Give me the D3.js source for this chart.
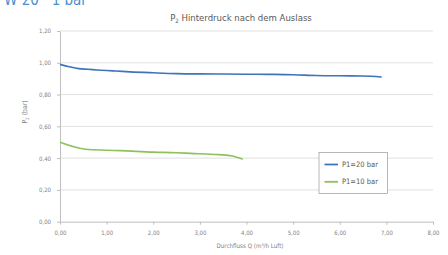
<!DOCTYPE html>
<html><head><meta charset="utf-8">
<script src="https://cdn.jsdelivr.net/npm/d3@7"></script>
<style>body{margin:0;background:#fff}svg{display:block}</style>
</head><body>
<script>
const xTicks = [0,1,2,3,4,5,6,7,8];
const yTicks = [0,0.2,0.4,0.6,0.8,1.0,1.2];
const seriesNames = ["P1=20 bar","P1=10 bar"];
const q20 = [0,0.2,0.4,0.6,0.8,1.0,1.2,1.5,2.0,2.5,3.0,3.5,4.0,4.5,5.0,5.5,6.0,6.5,6.9];
const p20 = [0.99,0.975,0.963,0.959,0.955,0.951,0.948,0.943,0.937,0.932,0.930,0.929,0.928,0.927,0.925,0.920,0.918,0.917,0.911];
const q10 = [0,0.55,1.0,1.3,2.0,2.5,2.8,3.4,3.7,3.92];
const p10 = [0.50,0.456,0.450,0.447,0.438,0.434,0.430,0.422,0.413,0.393];
const colors = ["#3d74ba","#8fc15b"];

const W=448,H=255;
const font = "'Liberation Sans Narrow','DejaVu Sans Condensed',sans-serif";
const svg = d3.select("body").append("svg").attr("width",W).attr("height",H).style("font-family",font);
const x = d3.scaleLinear().domain([0,8]).range([60,433]);
const y = d3.scaleLinear().domain([0,1.2]).range([221.7,31]);
const fmt = d => d.toFixed(2).replace(".",",");

// header
svg.append("text").attr("x",4).attr("y",4.5).attr("fill","#4a8fcf").attr("font-size",15).text("W 20 · 1 bar");
const t = svg.append("text").attr("x",241).attr("y",21).attr("text-anchor","middle").attr("fill","#595959").attr("font-size",9.5);
t.append("tspan").text("P");
t.append("tspan").attr("font-size",6).attr("dy",2).text("2");
t.append("tspan").attr("dy",-2).text(" Hinterdruck nach dem Auslass");

// grid
svg.append("g").selectAll("line").data(yTicks.filter(d=>d>0)).join("line")
  .attr("x1",x(0)).attr("x2",x(8)).attr("y1",d=>y(d)).attr("y2",d=>y(d))
  .attr("stroke","#d9d9d9").attr("stroke-width",0.8);

// axes
const ax = svg.append("g").attr("transform",`translate(0,${y(0)})`)
  .call(d3.axisBottom(x).tickValues(xTicks).tickFormat(fmt).tickSize(3).tickSizeOuter(0));
const ay = svg.append("g").attr("transform",`translate(${x(0)},0)`)
  .call(d3.axisLeft(y).tickValues(yTicks).tickFormat(fmt).tickSize(3).tickSizeOuter(0));
[ax,ay].forEach(g=>{
  g.select(".domain").attr("stroke","#bfbfbf");
  g.selectAll(".tick line").attr("stroke","#bfbfbf");
  g.selectAll("text").attr("fill","#7f7f7f").attr("font-size",6).attr("font-family",font);
});
ax.selectAll("text").attr("dy","1.2em");
ay.selectAll("text").attr("x",-9);

// axis titles
svg.append("text").attr("x",250).attr("y",248).attr("text-anchor","middle").attr("fill","#7f7f7f").attr("font-size",6.2).text("Durchfluss Q (m³/h Luft)");
const yt = svg.append("text").attr("transform","translate(27,112) rotate(-90)").attr("text-anchor","middle").attr("fill","#7f7f7f").attr("font-size",6.8);
yt.append("tspan").text("P");
yt.append("tspan").attr("font-size",4.5).attr("dy",1.5).text("2");
yt.append("tspan").attr("dy",-1.5).text(" (bar)");

// lines
const line = d3.line().x(d=>x(d[0])).y(d=>y(d[1])).curve(d3.curveMonotoneX);
const data = [d3.zip(q20,p20), d3.zip(q10,p10)];
svg.append("g").selectAll("path").data(data).join("path")
  .attr("d",line).attr("fill","none").attr("stroke",(d,i)=>colors[i]).attr("stroke-width",1.6);

// legend
const lg = svg.append("g");
lg.append("rect").attr("x",319).attr("y",152.5).attr("width",68.5).attr("height",41).attr("fill","#fff").attr("stroke","#a6a6a6").attr("stroke-width",0.8);
seriesNames.forEach((n,i)=>{
  const yy = 164.5 + i*17.3;
  lg.append("line").attr("x1",324.5).attr("x2",338).attr("y1",yy).attr("y2",yy).attr("stroke",colors[i]).attr("stroke-width",1.8);
  lg.append("text").attr("x",342).attr("y",yy+2.5).attr("fill","#595959").attr("font-size",7.5).text(n);
});
</script>
</body></html>
